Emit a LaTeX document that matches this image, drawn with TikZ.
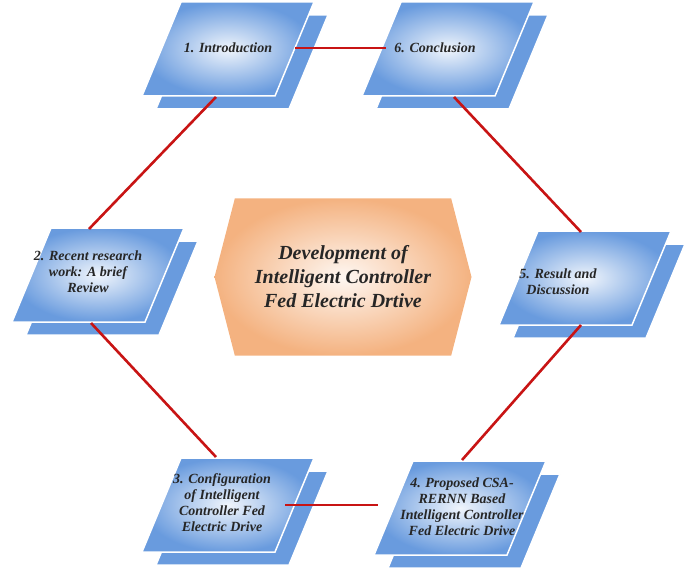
\documentclass[tikz,border=0pt]{standalone}
\usepackage{fontspec}
\setmainfont{Liberation Serif}
\usetikzlibrary{
  shapes.symbols % for the central signal box
}
\definecolor{stepblue}{RGB}{105,155,222}
\definecolor{hexorange}{RGB}{244,178,128}
\definecolor{linkred}{RGB}{200,20,20}
\tikzset{
  stepback/.style={ % the shadow plate behind each step
    fill=stepblue,draw=white,line width=1.5pt,
  },
  stepfront/.style={ % the front plate
    inner color=white!90!stepblue,outer color=stepblue,draw=white,line width=1.5pt,
  },
  steptext/.style={ % the text on each step
    align=center,inner sep=0pt,
    font=\fontsize{14}{16}\selectfont\bfseries\itshape,text=black!85,
  },
  hub/.style={ % the central title box
    signal,signal to=east and west,signal pointer angle=151,
    minimum width=257pt,minimum height=157pt,inner sep=0pt,
    inner color=white!90!hexorange,outer color=hexorange,
    align=center,font=\fontsize{20}{24}\selectfont\bfseries\itshape,text=black!85,
  },
  link/.style={ % red connection between steps
    draw=linkred,line width=2.6pt,
  },
}
% a step: shadow plate and front plate around (#1,#2)
\newcommand{\stepplate}[2]{%
  \path[stepback,shift={(#1+14,-#2-13)}] (-47,47) -- (86,47) -- (47,-47) -- (-86,-47) -- cycle;
  \path[stepfront,shift={(#1,-#2)}] (-47,47) -- (86,47) -- (47,-47) -- (-86,-47) -- cycle;
}
\begin{document}
\begin{tikzpicture}[x=1pt,y=1pt]
  \useasboundingbox (0,0) rectangle (685,-572);
  % plates
  \stepplate{228}{49}
  \stepplate{448}{49}
  \stepplate{98}{275}
  \stepplate{585}{278}
  \stepplate{228}{505}
  \stepplate{460}{508}
  % texts
  \node[steptext] (intro) at (228,-48) {1. Introduction};
  \node[steptext] (concl) at (435,-48) {6. Conclusion};
  \node[steptext] (review) at (88,-272) {2. Recent research\\work: A brief\\Review};
  \node[steptext] (result) at (558,-282) {5. Result and\\Discussion};
  \node[steptext] (config) at (222,-503) {3. Configuration\\of Intelligent\\Controller Fed\\Electric Drive};
  \node[steptext] (propo) at (462,-507) {4. Proposed CSA-\\RERNN Based\\Intelligent Controller\\Fed Electric Drive};
  \node[hub] (dev) at (343,-277) {Development of\\Intelligent Controller\\Fed Electric Drtive};
  % link ends on the plate edges
  \coordinate (introR) at (295,-48);
  \coordinate (introB) at (216,-97);
  \coordinate (conclL) at (386,-48);
  \coordinate (conclB) at (454,-97);
  \coordinate (reviewT) at (89,-229);
  \coordinate (reviewB) at (91,-323);
  \coordinate (resultT) at (581,-232);
  \coordinate (resultB) at (581,-325);
  \coordinate (configT) at (216,-457);
  \coordinate (configR) at (285,-505);
  \coordinate (propoT) at (462,-460);
  \coordinate (propoL) at (378,-505);
  % links
  \draw[link] (introR) -- (conclL);
  \draw[link] (introB) -- (reviewT);
  \draw[link] (conclB) -- (resultT);
  \draw[link] (reviewB) -- (configT);
  \draw[link] (resultB) -- (propoT);
  \draw[link] (configR) -- (propoL);
\end{tikzpicture}
\end{document}
